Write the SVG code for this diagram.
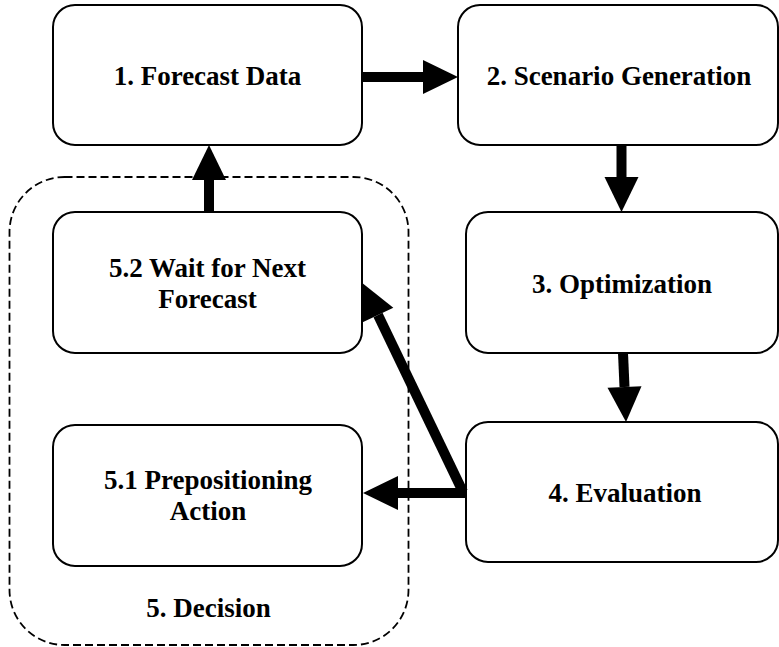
<svg xmlns="http://www.w3.org/2000/svg" width="779" height="647" viewBox="0 0 779 647">
  <style>
    .box { fill: #ffffff; stroke: #000000; stroke-width: 2; }
    .group { fill: none; stroke: #000000; stroke-width: 1.8; stroke-dasharray: 8 4; }
    .label { font-family: 'Liberation Serif', 'Times New Roman', serif; font-weight: bold; font-size: 27px; fill: #000000; text-anchor: middle; }
    .shaft { stroke: #000000; stroke-width: 10; fill: none; marker-end: url(#head); }
  </style>
  <defs>
    <marker id="head" markerUnits="userSpaceOnUse" markerWidth="36" markerHeight="36" refX="0" refY="17" orient="auto" overflow="visible">
      <path d="M0,0 L35,17 L0,34 Z" fill="#000000"/>
    </marker>
  </defs>

  <!-- Decision group (dashed boundary) -->
  <g id="decision">
    <rect class="group" x="9.5" y="177" width="399" height="468" rx="55" ry="55"/>
    <text class="label" x="208.5" y="617">5. Decision</text>
  </g>

  <g id="forecast-data">
    <rect class="box" x="53" y="5" width="309" height="140" rx="22" ry="22"/>
    <text class="label" x="207.5" y="85">1. Forecast Data</text>
  </g>

  <g id="scenario-generation">
    <rect class="box" x="458" y="5" width="320" height="140" rx="22" ry="22"/>
    <text class="label" x="619" y="85">2. Scenario Generation</text>
  </g>

  <g id="optimization">
    <rect class="box" x="466" y="212" width="312" height="141" rx="22" ry="22"/>
    <text class="label" x="622" y="293">3. Optimization</text>
  </g>

  <g id="evaluation">
    <rect class="box" x="466" y="422" width="312" height="140" rx="22" ry="22"/>
    <text class="label" x="625" y="502">4. Evaluation</text>
  </g>

  <g id="wait-next-forecast">
    <rect class="box" x="53" y="212" width="309" height="141" rx="22" ry="22"/>
    <text class="label" x="207.5" y="277">5.2 Wait for Next</text>
    <text class="label" x="207.5" y="308">Forecast</text>
  </g>

  <g id="prepositioning-action">
    <rect class="box" x="53" y="425" width="309" height="141" rx="22" ry="22"/>
    <text class="label" x="208" y="489">5.1 Prepositioning</text>
    <text class="label" x="208" y="520">Action</text>
  </g>

  <!-- Connectors: shafts end at the arrowhead base; the marker draws the head -->
  <g id="connectors">
    <line class="shaft" x1="362" y1="77" x2="423" y2="77"/>
    <line class="shaft" x1="621.5" y1="145" x2="621.5" y2="177"/>
    <line class="shaft" x1="623" y1="353" x2="624.5" y2="387"/>
    <line class="shaft" x1="209" y1="212" x2="209" y2="180"/>
    <line class="shaft" x1="467" y1="493" x2="398" y2="493"/>
    <line class="shaft" x1="463" y1="492" x2="378" y2="315"/>
  </g>
</svg>
